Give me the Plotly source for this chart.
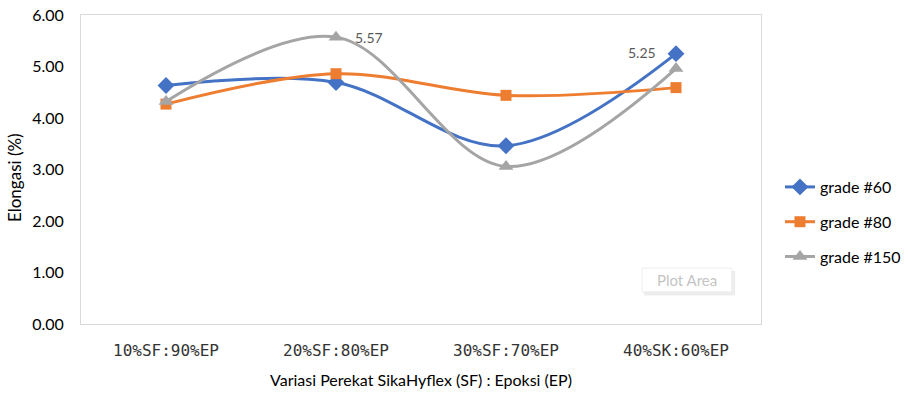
import plotly.graph_objects as go

# Adhesive mix ratios (SikaHyflex : Epoxy)
categories = ["10%SF:90%EP", "20%SF:80%EP", "30%SF:70%EP", "40%SK:60%EP"]

# Elongation (%) per sandpaper grade
grade_60 = [4.63, 4.69, 3.46, 5.25]
grade_80 = [4.27, 4.86, 4.44, 4.59]
grade_150 = [4.32, 5.57, 3.06, 4.96]

series_names = ["grade #60", "grade #80", "grade #150"]
y_ticks = [0, 1, 2, 3, 4, 5, 6]

FONT = "Lato, Open Sans, sans-serif"

fig = go.Figure()

styles = [
    ("#4472C4", "diamond", 13),
    ("#ED7D31", "square", 11),
    ("#A5A5A5", "triangle-up", 13),
]
for name, values, (color, symbol, size) in zip(series_names, [grade_60, grade_80, grade_150], styles):
    fig.add_trace(go.Scatter(
        x=categories, y=values, name=name, legendgroup=name,
        mode="lines+markers",
        line=dict(color=color, width=3, shape="spline", smoothing=1.0),
        marker=dict(color=color, symbol=symbol, size=size),
    ))

# value labels on the highest points
fig.add_annotation(x=categories[1], y=grade_150[1], text=f"{grade_150[1]:.2f}",
                   xref="x", yref="y", showarrow=False, xanchor="left", xshift=17,
                   font=dict(family=FONT, size=14, color="#595959"))
fig.add_annotation(x=categories[3], y=grade_60[3], text=f"{grade_60[3]:.2f}",
                   xref="x", yref="y", showarrow=False, xanchor="right", xshift=-18, yshift=1,
                   font=dict(family=FONT, size=14, color="#595959"))

# y-axis title, placed as a rotated annotation
fig.add_annotation(x=-0.097, y=0.4725, xref="paper", yref="paper", text="Elongasi (%)",
                   showarrow=False, textangle=-90, xanchor="center", yanchor="middle",
                   font=dict(family=FONT, size=17, color="#000000"))

# "Plot Area" hint box with a soft shadow
fig.add_shape(type="rect", xref="paper", yref="paper",
              x0=0.828, x1=0.962, y0=0.092, y1=0.172,
              line=dict(width=0), fillcolor="rgba(0,0,0,0.07)", layer="above")
fig.add_shape(type="rect", xref="paper", yref="paper",
              x0=0.825, x1=0.957, y0=0.104, y1=0.181,
              line=dict(width=1, color="#EEEEEE"), fillcolor="white", layer="above")
fig.add_annotation(x=0.891, y=0.142, xref="paper", yref="paper", text="Plot Area",
                   showarrow=False, xanchor="center", yanchor="middle",
                   font=dict(family=FONT, size=15, color="#C4C4C4"))

fig.update_layout(
    width=908, height=394,
    margin=dict(l=81, r=147, t=15, b=70),
    paper_bgcolor="white", plot_bgcolor="white",
    font=dict(family=FONT, size=14, color="#000000"),
    showlegend=True,
    legend=dict(xref="container", yref="container", x=0.859, y=0.5685,
                xanchor="left", yanchor="top",
                traceorder="grouped", tracegroupgap=11,
                font=dict(family=FONT, size=16, color="#000000"),
                bgcolor="rgba(0,0,0,0)"),
    xaxis=dict(
        title=dict(text="Variasi Perekat SikaHyflex (SF) : Epoksi (EP)",
                   font=dict(family=FONT, size=16), standoff=15),
        showgrid=False, showline=True, linecolor="#D9D9D9", linewidth=1, mirror=True,
        ticks="", ticklabelstandoff=12,
        tickfont=dict(family="DejaVu Sans Mono, monospace", size=16, color="#333333"),
        range=[-0.5, 3.5], automargin=False,
    ),
    yaxis=dict(
        range=[0, 6], tickvals=y_ticks, tickformat=".2f",
        showgrid=False, showline=True, linecolor="#D9D9D9", linewidth=1, mirror=True,
        ticks="", zeroline=False, automargin=False, ticklabelstandoff=13,
        tickfont=dict(family=FONT, size=16, color="#000000"),
    ),
)

fig.write_html("out.html")
